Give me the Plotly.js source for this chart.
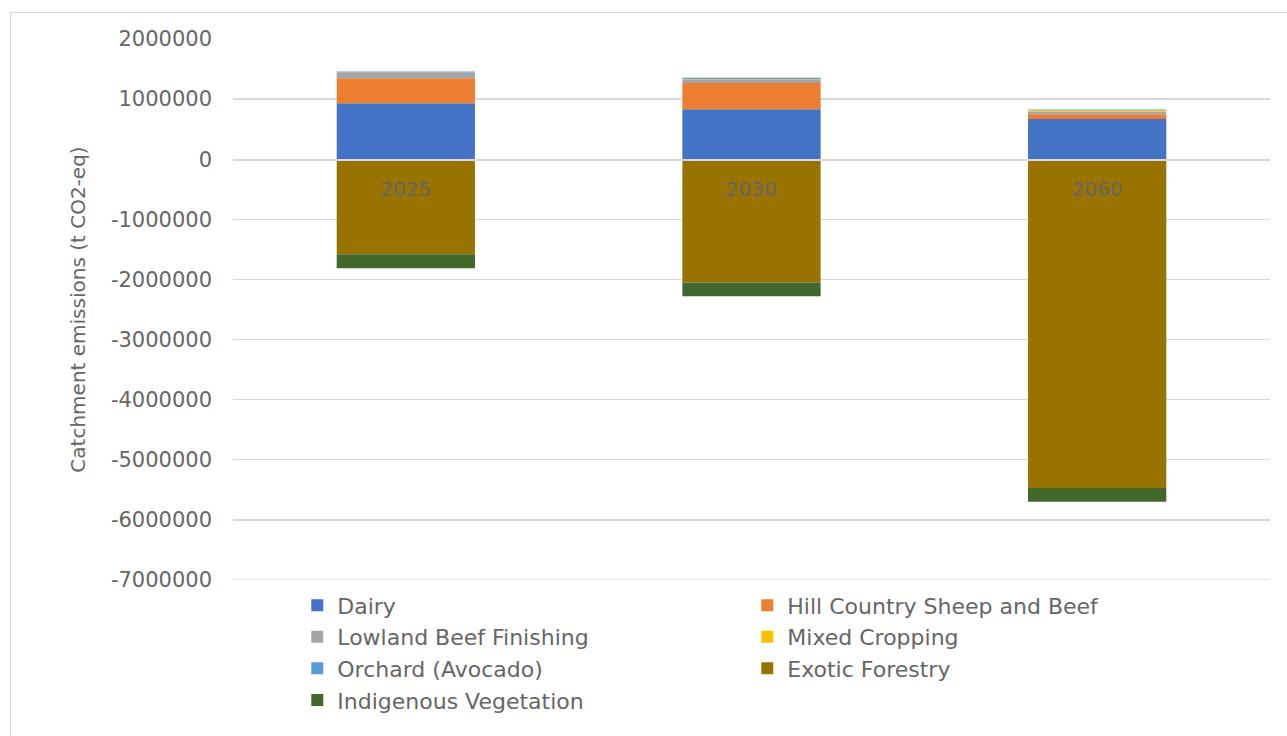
<!DOCTYPE html>
<html><head><meta charset="utf-8">
<script src="https://cdn.plot.ly/plotly-3.0.1.min.js"></script>
<style>
html,body{margin:0;padding:0;background:#fff;}
#wrap{position:relative;width:1287px;height:736px;overflow:hidden;}
#chart{width:1287px;height:736px;}
#frame{position:absolute;left:10px;top:12px;width:1300px;height:760px;border:1px solid #d9d9d9;pointer-events:none;}
</style></head>
<body><div id="wrap"><div id="chart"></div><div id="frame"></div></div>
<script>
const years = ["2025", "2030", "2060"];
const dairy = [930000, 830000, 670000];
const hillCountry = [415000, 437000, 78000];
const lowlandBeef = [100000, 50000, 45000];
const mixedCropping = [0, 15000, 20000];
const orchard = [15000, 25000, 15000];
const exoticForestry = [-1580000, -2050000, -5470000];
const indigenousVeg = [-233000, -228000, -227000];

const seriesNames = ["Dairy", "Hill Country Sheep and Beef", "Lowland Beef Finishing", "Mixed Cropping", "Orchard (Avocado)", "Exotic Forestry", "Indigenous Vegetation"];
const seriesValues = [dairy, hillCountry, lowlandBeef, mixedCropping, orchard, exoticForestry, indigenousVeg];
const colors = ["#4472C4", "#ED7D31", "#A5A5A5", "#FFC000", "#5B9BD5", "#997300", "#43682B"];
const yTicks = [2000000, 1000000, 0, -1000000, -2000000, -3000000, -4000000, -5000000, -6000000, -7000000];
const yMin = -7000000, yMax = 2000000;

const traces = seriesNames.map((n, i) => ({
  type: "bar", name: n, x: years, y: seriesValues[i],
  marker: {color: colors[i], line: {width: 0}}, width: 0.4,
  hoverinfo: "x+y+name"
}));

const fam = "DejaVu Sans, Noto Sans, sans-serif";
const txt = "#666666";
const layout = {
  width: 1287, height: 736,
  margin: {l: 233, r: 17, t: 39, b: 156, autoexpand: false},
  paper_bgcolor: "#ffffff", plot_bgcolor: "#ffffff",
  barmode: "relative", bargap: 0.6,
  font: {family: fam, color: txt, size: 20},
  showlegend: true,
  legend: {orientation: "h", x: 0.062, y: -0.008, xanchor: "left", yanchor: "top",
    entrywidth: 405, entrywidthmode: "pixels", font: {family: fam, color: txt, size: 22},
    traceorder: "normal", itemwidth: 30},
  xaxis: {type: "category", anchor: "free", position: 7/9, showgrid: false, zeroline: false,
    showline: true, linecolor: "#d9d9d9", linewidth: 1.5, ticks: "", ticklabelstandoff: 11,
    tickfont: {family: fam, color: txt, size: 20}, fixedrange: true},
  yaxis: {range: [yMin, yMax], tickvals: yTicks, ticktext: yTicks.map(v => String(v)),
    showgrid: true, gridcolor: "#d9d9d9", gridwidth: 1.3, zeroline: false, showline: false,
    ticks: "", ticklabelstandoff: 20,
    tickfont: {family: fam, color: txt, size: 21},
    title: {text: "Catchment emissions (t CO2-eq)", standoff: 19, font: {family: fam, color: txt, size: 20}},
    fixedrange: true},
  shapes: [{type: "line", xref: "paper", yref: "y", x0: 0, x1: 1, y0: yMin, y1: yMin,
    line: {color: "#d9d9d9", width: 1.3}, layer: "below"}]
};
Plotly.newPlot("chart", traces, layout, {displayModeBar: false, staticPlot: true});
</script></body></html>
